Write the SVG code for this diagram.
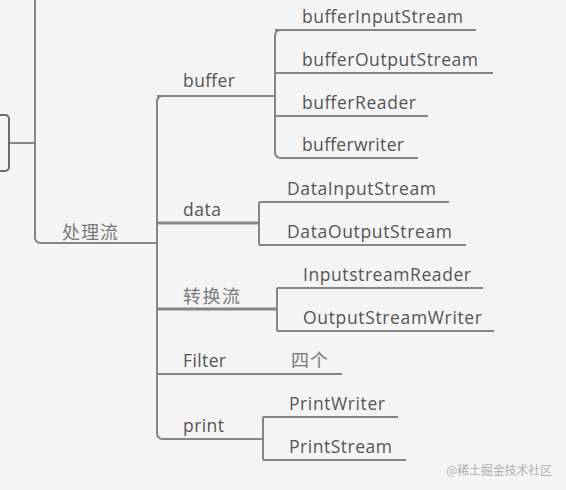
<svg xmlns="http://www.w3.org/2000/svg" width="566" height="490" viewBox="0 0 566 490">
  <style>
    .ln{fill:none;stroke:#858585;stroke-width:2;stroke-linecap:butt}
    .thk{stroke-width:3}
    .t{font-family:"Open Sans","Liberation Sans",sans-serif;font-size:17.5px;fill:#555555}
    .c{font-family:"Noto Sans CJK SC",sans-serif;font-size:18px;fill:#7a7a7a}
    .w{font-family:"Noto Sans CJK SC",sans-serif;font-size:12px;fill:#b0b0b0}
  </style>
  <rect width="566" height="490" fill="#f4f4f4"/>
  <g id="connectors">
    <path class="ln" d="M10 143 H35"/>
    <path class="ln" d="M35 0 V237 Q35 243 41 243 H157"/>
    <path class="ln" d="M163 96 Q157 96 157 102 V433 Q157 439 163 439"/>
    <path class="ln" d="M157 96 H275"/>
    <path class="ln" d="M281 30 Q275 30 275 36 V152 Q275 158 281 158"/>
    <path class="ln" d="M275 30 H476"/>
    <path class="ln" d="M275 73 H493"/>
    <path class="ln" d="M275 116 H428"/>
    <path class="ln" d="M281 158 H418"/>
    <path class="ln thk" d="M157 223 H259"/>
    <path class="ln" d="M259 202 V245"/>
    <path class="ln" d="M259 202 H449"/>
    <path class="ln" d="M259 245 H466"/>
    <path class="ln thk" d="M157 309 H277"/>
    <path class="ln" d="M277 288 V331"/>
    <path class="ln" d="M277 288 H483"/>
    <path class="ln" d="M277 331 H494"/>
    <path class="ln" d="M157 374 H342"/>
    <path class="ln" d="M163 439 H263"/>
    <path class="ln" d="M263 417 V460"/>
    <path class="ln" d="M263 417 H398"/>
    <path class="ln" d="M263 460 H406"/>
  </g>
  <g id="root">
    <rect x="-10" y="115" width="19" height="56" rx="4" fill="none" stroke="#6a6a6a" stroke-width="2"/>
  </g>
  <g id="chuliliu"><text class="c" x="62" y="239" textLength="56">处理流</text></g>
  <g id="buffer"><text class="t" x="183" y="87" textLength="52">buffer</text></g>
  <g id="bufferInputStream"><text class="t" x="302" y="23" textLength="161">bufferInputStream</text></g>
  <g id="bufferOutputStream"><text class="t" x="302" y="66" textLength="176">bufferOutputStream</text></g>
  <g id="bufferReader"><text class="t" x="302" y="109" textLength="114">bufferReader</text></g>
  <g id="bufferwriter"><text class="t" x="302" y="151" textLength="102">bufferwriter</text></g>
  <g id="data"><text class="t" x="183" y="216" textLength="38">data</text></g>
  <g id="DataInputStream"><text class="t" x="287" y="195" textLength="149">DataInputStream</text></g>
  <g id="DataOutputStream"><text class="t" x="287" y="238" textLength="165">DataOutputStream</text></g>
  <g id="zhuanhuanliu"><text class="c" x="183" y="303" textLength="57">转换流</text></g>
  <g id="InputstreamReader"><text class="t" x="303" y="281" textLength="168">InputstreamReader</text></g>
  <g id="OutputStreamWriter"><text class="t" x="303" y="324" textLength="179">OutputStreamWriter</text></g>
  <g id="Filter"><text class="t" x="183" y="367" textLength="43">Filter</text></g>
  <g id="sige"><text class="c" x="291" y="367" textLength="37">四个</text></g>
  <g id="print"><text class="t" x="183" y="432" textLength="41">print</text></g>
  <g id="PrintWriter"><text class="t" x="289" y="410" textLength="96">PrintWriter</text></g>
  <g id="PrintStream"><text class="t" x="289" y="453" textLength="103">PrintStream</text></g>
  <text class="w" x="446" y="475" textLength="106">@稀土掘金技术社区</text>
</svg>
